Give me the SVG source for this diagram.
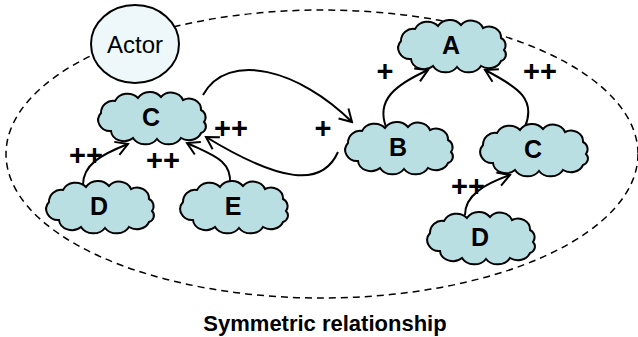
<svg xmlns="http://www.w3.org/2000/svg" width="638" height="337" viewBox="0 0 638 337">
<style>
.cloud{fill:#b9dfe3;stroke:#000;stroke-width:2}
.lbl{font-family:"Liberation Sans",Arial,sans-serif;font-weight:bold;font-size:25px;text-anchor:middle}
.sign{font-family:"Liberation Sans",Arial,sans-serif;font-weight:bold;font-size:29px;text-anchor:middle}
.con{fill:none;stroke:#000;stroke-width:2;marker-end:url(#arr)}
</style>
<defs>
<path id="cl" d="M-50,-4 A12,12 0 0 1 -36,-16 A14,13 0 0 1 -13,-19 A14,13 0 0 1 10,-20 A13,12 0 0 1 32,-17 A12,11 0 0 1 50,-7 A8,8 0 0 1 53,5 A8,7 0 0 1 50,16 A13,11 0 0 1 30,21 A14,12 0 0 1 6,22 A14,12 0 0 1 -18,21 A13,11 0 0 1 -40,14 A12,11 0 0 1 -50,-4 Z"/>
<marker id="arr" viewBox="0 0 16 16" refX="14" refY="8" markerWidth="16" markerHeight="16" markerUnits="userSpaceOnUse" orient="auto">
<path d="M2,1 L14,8 L2,15" fill="none" stroke="#000" stroke-width="2"/>
</marker>
</defs>
<rect width="638" height="337" fill="#fff"/>
<ellipse id="boundary" cx="322" cy="154" rx="316" ry="144" fill="none" stroke="#000" stroke-width="1.5" stroke-dasharray="7,5"/>
<g id="actor">
<ellipse cx="135" cy="44" rx="44" ry="39" fill="#eef7f9" stroke="#000" stroke-width="2"/>
<text x="135" y="53" font-family="Liberation Sans, Arial, sans-serif" font-size="24" text-anchor="middle">Actor</text>
</g>
<g id="connectors">
<path class="con" d="M203,95 C228,50 300,70 352,122"/>
<path class="con" d="M338,152 C322,188 280,182 206,137"/>
<path class="con" d="M230,184 C232,160 212,155 187,143"/>
<path class="con" d="M83,185 C83,165 100,155 128,144"/>
<path class="con" d="M386,127 C376,100 395,85 428,70"/>
<path class="con" d="M525,127 C536,100 520,88 485,70"/>
<path class="con" d="M465,215 C465,195 485,184 510,175"/>
</g>
<g id="nodeC1"><use href="#cl" class="cloud" transform="translate(151,117)"/><text class="lbl" x="151" y="126">C</text></g>
<g id="nodeA"><use href="#cl" class="cloud" transform="translate(451,45)"/><text class="lbl" x="451" y="54">A</text></g>
<g id="nodeB"><use href="#cl" class="cloud" transform="translate(398,147)"/><text class="lbl" x="398" y="156">B</text></g>
<g id="nodeC2"><use href="#cl" class="cloud" transform="translate(533,149)"/><text class="lbl" x="533" y="158">C</text></g>
<g id="nodeD1"><use href="#cl" class="cloud" transform="translate(99,206)"/><text class="lbl" x="99" y="215">D</text></g>
<g id="nodeE"><use href="#cl" class="cloud" transform="translate(233,206)"/><text class="lbl" x="233" y="215">E</text></g>
<g id="nodeD2"><use href="#cl" class="cloud" transform="translate(480,237)"/><text class="lbl" x="480" y="246">D</text></g>
<g id="labels">
<text class="sign" x="86" y="165">++</text>
<text class="sign" x="163" y="170">++</text>
<text class="sign" x="231" y="138">++</text>
<text class="sign" x="323" y="138">+</text>
<text class="sign" x="385" y="81">+</text>
<text class="sign" x="540" y="81">++</text>
<text class="sign" x="468" y="196">++</text>
</g>
<text x="325" y="331" font-family="Liberation Sans, Arial, sans-serif" font-weight="bold" font-size="22" text-anchor="middle">Symmetric relationship</text>
</svg>
